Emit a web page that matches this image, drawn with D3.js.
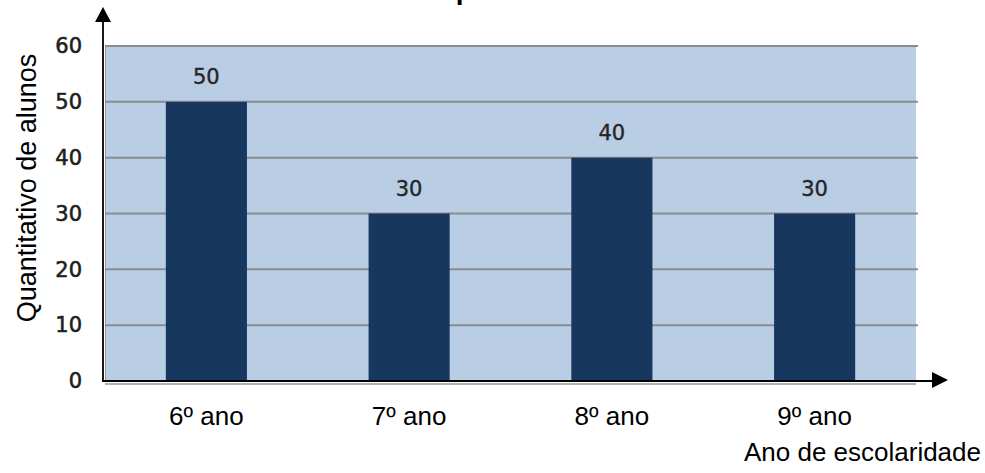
<!DOCTYPE html>
<html>
<head>
<meta charset="utf-8">
<script src="https://cdn.jsdelivr.net/npm/d3@7/dist/d3.min.js"></script>
<style>
  body { margin: 0; background: #ffffff; }
  svg { display: block; }
</style>
</head>
<body>
<div id="chart"></div>
<script>
// data
var categories = ['6º ano', '7º ano', '8º ano', '9º ano'];
var alunos = [50, 30, 40, 30];
var yTicks = [0, 10, 20, 30, 40, 50, 60];
var titleText = 'Alunos por ano de escolaridade';
var yTitle = 'Quantitativo de alunos';
var xTitle = 'Ano de escolaridade';

var width = 985, height = 473;
var plot = {left: 105, right: 916, top: 46, bottom: 381};

var svg = d3.select('#chart').append('svg')
    .attr('width', width)
    .attr('height', height);

var x = d3.scaleBand()
    .domain(categories)
    .range([plot.left, plot.right])
    .paddingInner(0.6)
    .paddingOuter(0.3);

var y = d3.scaleLinear()
    .domain([0, 60])
    .range([plot.bottom, plot.top]);

// plot background
svg.append('rect')
    .attr('x', plot.left)
    .attr('y', plot.top)
    .attr('width', plot.right - plot.left)
    .attr('height', plot.bottom - plot.top)
    .attr('fill', '#b9cde5');

svg.append('line')
    .attr('x1', plot.left + 0.5).attr('x2', plot.left + 0.5)
    .attr('y1', plot.top).attr('y2', plot.bottom)
    .attr('stroke', '#9a9a9a').attr('stroke-width', 1);

// gridlines
svg.append('g')
    .attr('class', 'grid')
    .selectAll('line')
    .data(yTicks.filter(function(d) { return d > 0; }))
    .enter().append('line')
    .attr('x1', plot.left)
    .attr('x2', plot.right + 2)
    .attr('y1', function(d) { return y(d); })
    .attr('y2', function(d) { return y(d); })
    .attr('stroke', '#8c8c8c')
    .attr('stroke-width', 2);

// bars
svg.append('g')
    .attr('class', 'bars')
    .selectAll('rect')
    .data(alunos)
    .enter().append('rect')
    .attr('x', function(d, i) { return x(categories[i]); })
    .attr('y', function(d) { return y(d); })
    .attr('width', x.bandwidth())
    .attr('height', function(d) { return y(0) - y(d); })
    .attr('fill', '#17375e');

// value labels
svg.append('g')
    .attr('class', 'values')
    .selectAll('text')
    .data(alunos)
    .enter().append('text')
    .attr('x', function(d, i) { return x(categories[i]) + x.bandwidth() / 2; })
    .attr('y', function(d) { return y(d) - 18; })
    .attr('text-anchor', 'middle')
    .attr('font-family', 'DejaVu Sans')
    .attr('font-size', 21)
    .attr('fill', '#262626')
    .attr('stroke', '#262626')
    .attr('stroke-width', 0.4)
    .text(function(d) { return d; });

// y axis labels
var yAxis = d3.axisLeft(y)
    .tickValues(yTicks)
    .tickSize(0)
    .tickPadding(21);

var yg = svg.append('g')
    .attr('transform', 'translate(103,0)')
    .call(yAxis);
yg.select('.domain').remove();
yg.selectAll('text')
    .attr('font-family', 'DejaVu Sans')
    .attr('font-size', 21)
    .attr('fill', '#1f1f1f')
    .attr('stroke', '#1f1f1f')
    .attr('stroke-width', 0.6);

// x category labels
svg.append('g')
    .attr('class', 'cats')
    .selectAll('text')
    .data(categories)
    .enter().append('text')
    .attr('x', function(d) { return x(d) + x.bandwidth() / 2; })
    .attr('y', 425)
    .attr('text-anchor', 'middle')
    .attr('font-family', 'Liberation Sans')
    .attr('font-size', 26)
    .attr('fill', '#000')
    .text(function(d) { return d; });

// axis arrows
svg.append('line')
    .attr('x1', 103).attr('x2', 103)
    .attr('y1', 18).attr('y2', plot.bottom + 1)
    .attr('stroke', '#1a1a1a').attr('stroke-width', 2);
svg.append('path')
    .attr('d', 'M103,7 L111,22 L95,22 Z')
    .attr('fill', '#000');

svg.append('line')
    .attr('x1', plot.left).attr('x2', plot.right)
    .attr('y1', plot.bottom + 3).attr('y2', plot.bottom + 3)
    .attr('stroke', '#b0b0b0').attr('stroke-width', 2);
svg.append('line')
    .attr('x1', 102).attr('x2', 934)
    .attr('y1', plot.bottom).attr('y2', plot.bottom)
    .attr('stroke', '#000').attr('stroke-width', 2);
svg.append('path')
    .attr('d', 'M948,380 L932,372 L932,388 Z')
    .attr('fill', '#000');

// axis titles
svg.append('text')
    .attr('transform', 'translate(36,188) rotate(-90)')
    .attr('text-anchor', 'middle')
    .attr('font-family', 'Liberation Sans')
    .attr('font-size', 27)
    .attr('fill', '#000')
    .text(yTitle);

svg.append('text')
    .attr('x', 981)
    .attr('y', 461)
    .attr('text-anchor', 'end')
    .attr('font-family', 'Liberation Sans')
    .attr('font-size', 26)
    .attr('fill', '#000')
    .text(xTitle);

// title, cut off by the top edge like in the original: only the descender of "p" shows
var title = svg.append('text')
    .attr('y', -1)
    .attr('font-family', 'Liberation Sans')
    .attr('font-weight', 'bold')
    .attr('font-size', 28)
    .attr('fill', '#000')
    .text(titleText);
var pre = svg.append('text')
    .attr('font-family', 'Liberation Sans')
    .attr('font-weight', 'bold')
    .attr('font-size', 28)
    .text('Alunos ');
var preW = pre.node().getComputedTextLength();
pre.remove();
title.attr('x', 450 - preW - 2);
</script>
</body>
</html>
